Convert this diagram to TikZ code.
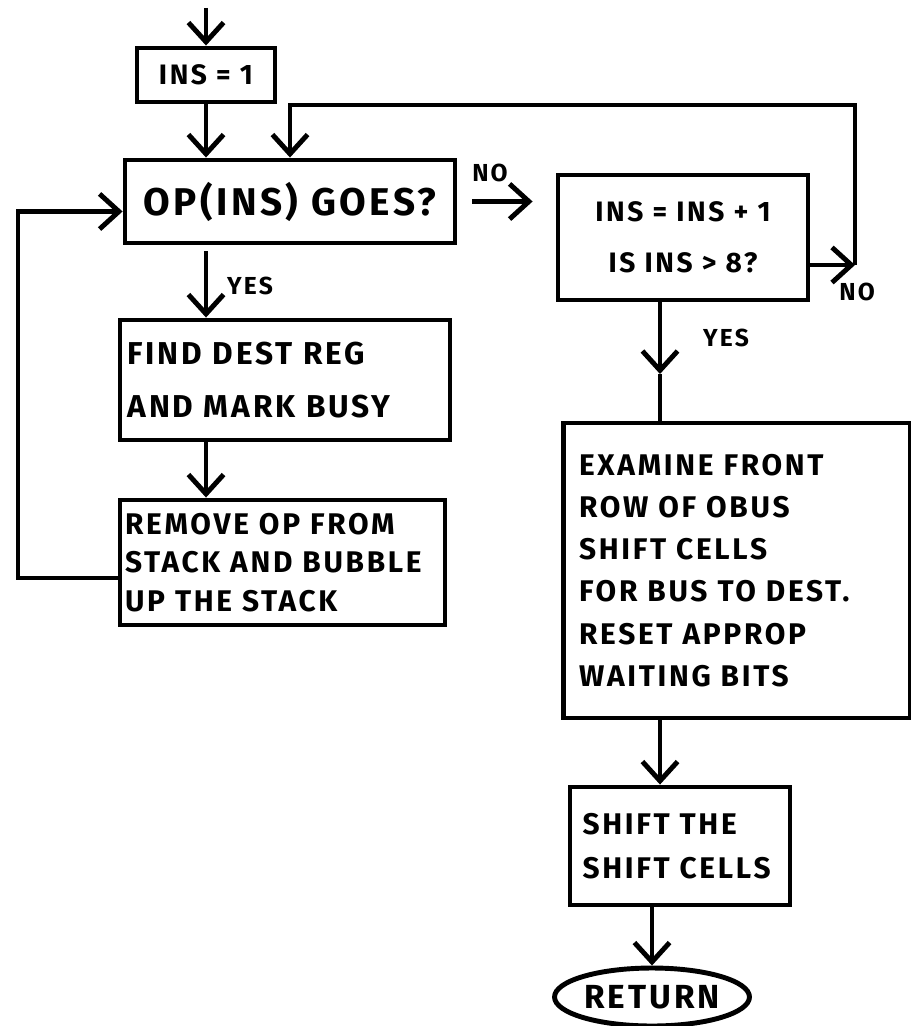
\documentclass[tikz,border=0pt]{standalone}
\usepackage{fontspec}
\setmainfont{Fira Sans}[LetterSpace=9]
\usetikzlibrary{arrows.meta, shapes.geometric}
\newcommand{\handfont}[2]{\fontsize{#1}{#2}\selectfont\bfseries}

\begin{document}
\begin{tikzpicture}[x=0.02cm, y=-0.02cm, line width=2.8pt,
    box/.style={draw, inner sep=0pt},
    flow/.style={-{Straight Barb[length=11pt, width=20pt]}},
    lbl/.style={font=\handfont{14}{16}}]
  \useasboundingbox (0,0) rectangle (911,1026);

  % left column
  \node[box, minimum width=2.76cm, minimum height=1.08cm, font=\handfont{16}{20}]
    (ins) at (206,75) {INS = 1};
  \node[box, minimum width=6.6cm, minimum height=1.66cm, font=\handfont{22}{26}]
    (goes) at (290,201.5) {OP(INS) GOES?};
  \node[box, minimum width=6.6cm, minimum height=2.4cm, align=left,
        text width=6.3cm, inner xsep=0.15cm, font=\handfont{18}{30}]
    (find) at (285,380) {FIND DEST REG\\AND MARK BUSY};
  \node[box, minimum width=6.5cm, minimum height=2.5cm, align=left,
        text width=6.3cm, inner xsep=0.1cm, font=\handfont{17}{22}]
    (rem) at (282.5,562.5) {REMOVE OP FROM\\STACK AND BUBBLE\\UP THE STACK};

  % right column
  \node[box, minimum width=5cm, minimum height=2.5cm, align=center,
        font=\handfont{16}{29}]
    (inc) at (683,237.5) {INS = INS + 1\\IS INS > 8?};
  \node[box, minimum height=5.9cm, align=left, text width=6.3cm,
        inner xsep=0.32cm, font=\handfont{17}{24}]
    (exam) at (736.5,570.5) {EXAMINE FRONT\\ROW OF OBUS\\SHIFT CELLS\\FOR BUS TO DEST.\\RESET APPROP\\WAITING BITS};
  \node[box, minimum height=2.36cm, align=left, text width=3.9cm,
        inner xsep=0.25cm, font=\handfont{17}{25}]
    (shift) at (680,846) {SHIFT THE\\SHIFT CELLS};
  \node[draw, ellipse, inner sep=0pt, minimum width=3.9cm, minimum height=1.16cm,
        font=\handfont{19}{20}]
    (ret) at (652,997) {RETURN};

  % labels
  \node[lbl] (no1) at (490,173) {NO};
  \node[lbl] (no2) at (857,292) {NO};
  \node[lbl] (yes1) at (250,286) {YES};
  \node[lbl] (yes2) at (726,338) {YES};

  \coordinate (start) at (206,8);
  \coordinate (fbR) at (855,265);
  \coordinate (fbT) at (855,105);
  \coordinate (lpL) at (18,578);
  \coordinate (ymid) at (660,374);

  % connectors
  \draw[flow] (start) -- (ins.north);
  \draw[flow] (ins.south) -- (ins.south |- goes.north);
  \draw[flow, shorten <=0.12cm] (goes.south -| ins) -- (find.north -| ins);
  \draw[flow] (find.south -| ins) -- (rem.north -| ins);
  \draw[flow] (rem.west |- lpL) -- (lpL) |- ([yshift=-0.2cm]goes.west);
  \draw[flow, shorten <=0.3cm, shorten >=0.46cm] (goes.east) -- (goes.east -| inc.west);
  \draw[flow] (inc.east |- fbR) -- (fbR);
  \draw[flow] (fbR) -- (fbT) -| (goes.north);
  \draw[flow] (inc.south -| ymid) -- (ymid);
  \draw (ymid) -- (exam.north -| ymid);
  \draw[flow] (exam.south -| ymid) -- (shift.north -| ymid);
  \draw[flow] (shift.south -| ret) -- (ret.north);
\end{tikzpicture}
\end{document}
